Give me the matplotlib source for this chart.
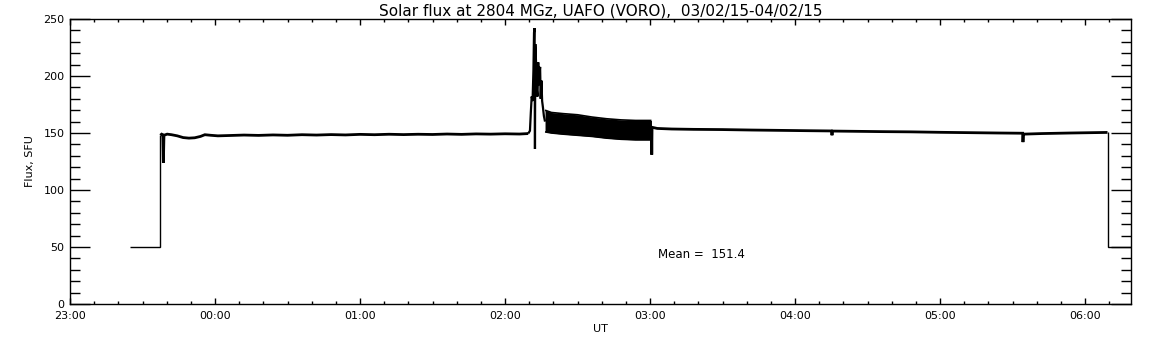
#! /usr/bin/env python3

import matplotlib
matplotlib.use("Agg")
import matplotlib.pyplot as plt
from matplotlib.ticker import MultipleLocator

"""
Données lues sur le graphe (temps en heures après 23:00 UT, flux en SFU).
"""

t_off1 = [0.414, 0.623, 0.623]
f_off1 = [50, 50, 148]

t_quiet = [0.623, 0.632, 0.640, 0.644, 0.648, 0.67, 0.70, 0.74, 0.78, 0.82,
           0.86, 0.90, 0.93, 0.97, 1.02, 1.10, 1.20, 1.30, 1.40, 1.50, 1.60,
           1.70, 1.80, 1.90, 2.00, 2.10, 2.20, 2.30, 2.40, 2.50, 2.60, 2.70,
           2.80, 2.90, 3.00, 3.10, 3.16]
f_quiet = [148, 149, 148.5, 124, 148, 149, 148.5, 147.5, 146, 145.5,
           145.8, 147, 148.5, 148, 147.5, 147.8, 148.2, 147.9, 148.3, 148.0, 148.5,
           148.2, 148.6, 148.3, 148.8, 148.5, 148.9, 148.6, 148.9, 148.7, 149.1, 148.8,
           149.2, 149.0, 149.3, 149.1, 149.5]

t_flare = [3.16, 3.172, 3.178, 3.184, 3.190, 3.196, 3.200, 3.204, 3.2065, 3.209,
           3.214, 3.218, 3.224, 3.229, 3.234, 3.238, 3.242, 3.246, 3.251, 3.256,
           3.262, 3.268, 3.276]
f_flare = [149.5, 152, 168, 182, 178, 205, 238, 242, 136, 228,
           212, 190, 182, 212, 192, 202, 208, 180, 196, 178,
           172, 165, 160]

t_band = [3.276, 3.32, 3.40, 3.50, 3.60, 3.70, 3.80, 3.90, 4.00, 4.010]
f_band_hi = [170, 168, 167, 166, 164, 162.5, 161.5, 161, 161, 161]
f_band_lo = [151, 150, 149, 148, 147, 145.5, 144.5, 144, 144, 144]

t_after = [4.010, 4.012, 4.014, 4.05, 4.15, 4.3, 4.5, 4.7, 4.9, 5.1, 5.25,
           5.255, 5.26, 5.4, 5.6, 5.8, 6.0, 6.2, 6.4, 6.57, 6.572, 6.575,
           6.7, 6.9, 7.05, 7.155]
f_after = [155, 131, 155, 154, 153.5, 153.2, 153, 152.6, 152.3, 152, 151.8,
           148, 151.7, 151.5, 151.2, 151, 150.6, 150.3, 150, 149.8, 142, 149,
           149.5, 150, 150.3, 150.5]

t_off2 = [7.155, 7.159, 7.159, 7.4]
f_off2 = [150.5, 150.5, 50, 50]

hour_ticks = [0, 1, 2, 3, 4, 5, 6, 7]
hour_labels = ["23:00", "00:00", "01:00", "02:00", "03:00", "04:00", "05:00", "06:00"]

mean_flux = 151.4

"""
Création du graphe.
"""

plt.rcParams["font.family"] = "DejaVu Sans"

fig = plt.figure(figsize=(11.52, 3.45), dpi=100)
ax = fig.add_axes([70 / 1152, 1 - 304 / 345, 1061 / 1152, 285 / 345])

trace = dict(color="k", solid_capstyle="butt", solid_joinstyle="miter")
ax.plot(t_off1, f_off1, lw=1.0, **trace)
ax.plot(t_quiet, f_quiet, lw=2.0, **trace)
ax.plot(t_flare, f_flare, lw=1.6, **trace)
ax.fill_between(t_band, f_band_lo, f_band_hi, color="k", lw=0)
ax.plot(t_band, f_band_hi, lw=1.2, **trace)
ax.plot(t_band, f_band_lo, lw=1.2, **trace)
ax.plot(t_after, f_after, lw=2.0, **trace)
ax.plot(t_off2, f_off2, lw=1.0, **trace)

ax.text(4.055, 43, f"Mean =  {mean_flux}", fontsize=8.5, va="center", ha="left")

ax.set_xlim(0, 7.317)
ax.set_ylim(0, 250)
ax.set_xticks(hour_ticks)
ax.set_xticklabels(hour_labels)
ax.xaxis.set_minor_locator(MultipleLocator(1 / 6))
ax.yaxis.set_major_locator(MultipleLocator(50))
ax.yaxis.set_minor_locator(MultipleLocator(10))

ax.tick_params(axis="both", which="both", direction="in", top=True, right=True,
               width=1, color="k", labelsize=8)
ax.tick_params(axis="y", which="major", length=14.4, pad=4)
ax.tick_params(axis="y", which="minor", length=7.2)
ax.tick_params(axis="x", which="major", length=4, pad=5)
ax.tick_params(axis="x", which="minor", length=2.2)
for s in ax.spines.values():
    s.set_linewidth(1.0)

ax.set_title("Solar flux at 2804 MGz, UAFO (VORO),  03/02/15-04/02/15",
             fontsize=11, pad=2)
ax.set_xlabel("UT", fontsize=8, labelpad=2)
ax.set_ylabel("Flux, SFU", fontsize=8, labelpad=6)

fig.savefig("out.png", dpi=100)
